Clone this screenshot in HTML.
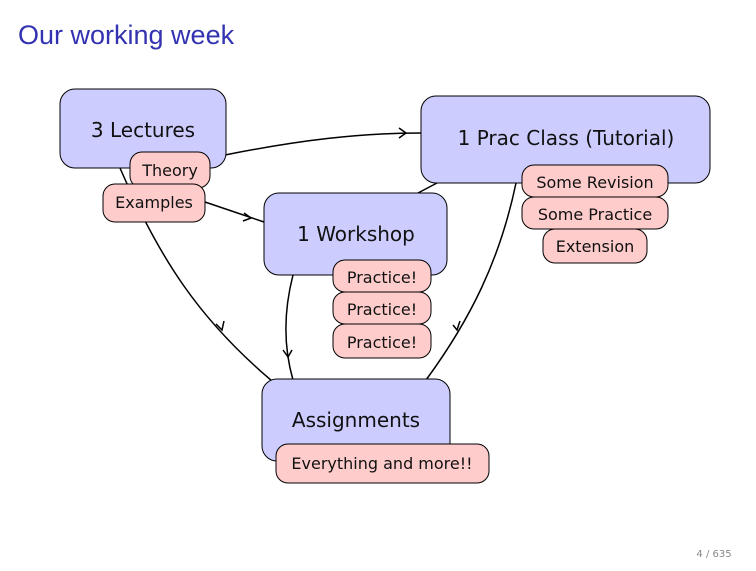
<!DOCTYPE html>
<html><head><meta charset="utf-8"><style>
body{margin:0;width:756px;height:567px;background:#fff;overflow:hidden;font-family:"DejaVu Sans","Liberation Sans",sans-serif;}
</style></head><body>
<svg width="756" height="567" viewBox="0 0 756 567" xmlns="http://www.w3.org/2000/svg" font-family="DejaVu Sans, Liberation Sans, sans-serif">
<text x="18" y="44" font-size="27" fill="#3333b2" font-family="Liberation Sans, sans-serif">Our working week</text>
<g fill="none" stroke="#000" stroke-width="1.5">
<path d="M225,155 C300,140 360,133 421,133"/>
<path d="M399,128 L406,133 L399,138"/>
<path d="M205,202 L264,222"/>
<path d="M244,213 L251,218 L243,221"/>
<path d="M120,168 C160,260 200,320 272,381"/>
<path d="M216,324 L222,330 L224,321"/>
<path d="M437,183 L418,193"/>
<path d="M293,275 C284,310 283,345 293,380"/>
<path d="M283,350 L288,357 L292,350"/>
<path d="M516,183 C500,260 470,320 426,380"/>
<path d="M453,325 L457,330 L460,321"/>
</g>
<g stroke="#000" stroke-width="1">
<rect x="60" y="89" width="166" height="79" rx="15" fill="#ccccff"/>
<rect x="421" y="96" width="289" height="87" rx="15" fill="#ccccff"/>
<rect x="264" y="193" width="183" height="82" rx="15" fill="#ccccff"/>
<rect x="262" y="379" width="188" height="82" rx="15" fill="#ccccff"/>
<g fill="#ffcccc">
<rect x="130" y="152" width="80" height="36" rx="12"/>
<rect x="103" y="184" width="102" height="38" rx="12"/>
<rect x="522" y="165" width="146" height="32" rx="12"/>
<rect x="522" y="197" width="146" height="32" rx="12"/>
<rect x="543" y="229" width="104" height="34" rx="12"/>
<rect x="333" y="260" width="98" height="32" rx="12"/>
<rect x="333" y="292" width="98" height="32" rx="12"/>
<rect x="333" y="324" width="98" height="34" rx="12"/>
<rect x="276" y="444" width="213" height="39" rx="12"/>
</g></g>
<g fill="#111" text-anchor="middle">
<text x="143" y="137" font-size="20">3 Lectures</text>
<text x="566" y="145" font-size="20">1 Prac Class (Tutorial)</text>
<text x="356" y="241" font-size="20">1 Workshop</text>
<text x="356" y="427" font-size="20">Assignments</text>
<g font-size="16">
<text x="170" y="176">Theory</text>
<text x="154" y="208">Examples</text>
<text x="595" y="188">Some Revision</text>
<text x="595" y="220">Some Practice</text>
<text x="595" y="252">Extension</text>
<text x="382" y="283">Practice!</text>
<text x="382" y="315">Practice!</text>
<text x="382" y="348">Practice!</text>
<text x="382" y="469">Everything and more!!</text>
</g></g>
<text x="714" y="557" font-size="10" fill="#888" text-anchor="middle">4 / 635</text>
</svg>
</body></html>
